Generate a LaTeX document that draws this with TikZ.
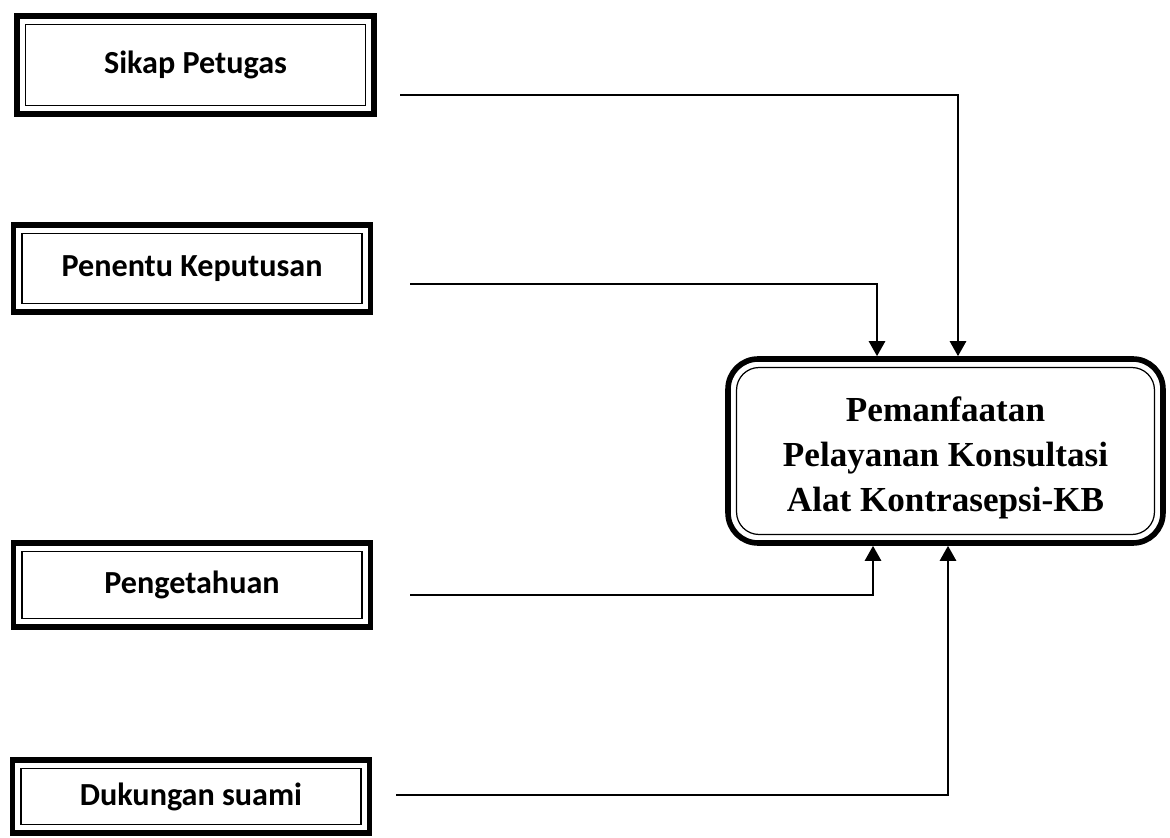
\documentclass[tikz,border=0pt]{standalone}
\usepackage{fontspec}
\setmainfont{Liberation Serif}
\newfontfamily\boxfont{Carlito}
\usetikzlibrary{arrows.meta}
\begin{document}
\begin{tikzpicture}[x=0.02cm,y=-0.02cm,
  factor/.style={draw, line width=3.2pt, rectangle, minimum width=7.14cm,
    font=\boxfont\bfseries\fontsize{18.3}{22}\selectfont, inner sep=0pt,
    path picture={\draw[line width=0.7pt]
      ([shift={(0.17cm,-0.17cm)}]path picture bounding box.north west) rectangle
      ([shift={(-0.17cm,0.17cm)}]path picture bounding box.south east);}},
  target/.style={draw, line width=3.2pt, rectangle, rounded corners=0.6cm,
    minimum width=8.7cm, minimum height=3.68cm, align=center,
    font=\bfseries\fontsize{20}{25.8}\selectfont, inner sep=0pt,
    path picture={\draw[line width=0.7pt, rounded corners=0.45cm]
      ([shift={(0.17cm,-0.17cm)}]path picture bounding box.north west) rectangle
      ([shift={(-0.17cm,0.17cm)}]path picture bounding box.south east);}},
  arr/.style={line width=1.5pt, -{Triangle[length=0.3cm,width=0.32cm]}}
]
\useasboundingbox (0,0) rectangle (1170,838);

\node[factor, minimum height=1.96cm] (sp) at (195.5,65) {Sikap Petugas};
\node[factor, minimum height=1.74cm] (pk) at (192,268.5) {Penentu Keputusan};
\node[factor, minimum height=1.68cm] (pg) at (192,585) {Pengetahuan};
\node[factor, minimum height=1.46cm] (ds) at (191,796.5) {Dukungan suami};

\node[target] (t) at (945.5,451) {\rule{0pt}{22pt}Pemanfaatan\\Pelayanan Konsultasi\\Alat Kontrasepsi-KB};

\coordinate (c1) at (400,95);
\coordinate (c2) at (410,284);
\coordinate (c3) at (410,595);
\coordinate (c4) at (396,795);

\draw[arr] (c1) -| ([xshift=0.25cm]t.north);
\draw[arr] (c2) -| ([xshift=-1.37cm]t.north);
\draw[arr] (c3) -| ([xshift=-1.45cm]t.south);
\draw[arr] (c4) -| ([xshift=0.05cm]t.south);
\end{tikzpicture}
\end{document}
